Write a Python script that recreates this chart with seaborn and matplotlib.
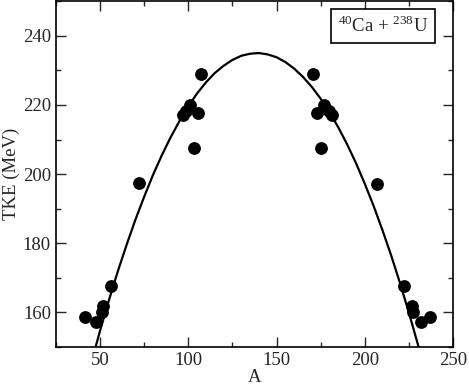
import numpy as np
import pandas as pd
import matplotlib
matplotlib.use("Agg")
import matplotlib.pyplot as plt
import seaborn as sns
from matplotlib.ticker import MultipleLocator

# measured fragment data (A, TKE)
frag_A = [41.4, 47.5, 51.2, 51.8, 56.2, 72.0, 97.2, 98.7, 101.0, 103.4, 105.7, 107.2,
          170.9, 172.8, 175.1, 177.1, 180.0, 181.3, 206.8, 222.4, 227.0, 227.2, 231.7, 237.0]
frag_TKE = [158.7, 157.1, 160.2, 161.8, 167.6, 197.3, 217.2, 218.2, 220.1, 207.4, 217.7, 229.0,
            229.0, 217.7, 207.5, 220.1, 218.2, 217.0, 197.1, 167.6, 161.8, 160.2, 157.1, 158.7]

# systematics curve
curve_A = [45, 50, 55, 60, 65, 70, 75, 80, 85, 90, 95, 100, 105, 110, 115, 120, 125, 130, 135,
           140, 145, 150, 155, 160, 165, 170, 175, 180, 185, 190, 195, 200, 205, 210, 215,
           220, 225, 230, 235]
curve_TKE = [145.3, 154.6, 163.4, 171.7, 179.4, 186.7, 193.4, 199.7, 205.4, 210.6, 215.3,
             219.6, 223.3, 226.5, 229.2, 231.3, 233.0, 234.2, 234.8, 235.0, 234.6, 233.8,
             232.4, 230.5, 228.1, 225.2, 221.8, 217.9, 213.5, 208.6, 203.2, 197.2, 190.8,
             183.8, 176.4, 168.4, 159.9, 150.9, 141.5]

pts = pd.DataFrame({"A": frag_A, "TKE": frag_TKE})
curve = pd.DataFrame({"A": curve_A, "TKE": curve_TKE})

sns.set_style("ticks")
plt.rcParams["font.family"] = ["Liberation Serif", "DejaVu Serif"]
plt.rcParams["mathtext.fontset"] = "custom"
plt.rcParams["mathtext.rm"] = "Liberation Serif"

fig = plt.figure(figsize=(4.69, 3.86), dpi=100)
ax = fig.add_axes([0.119, 0.101, 0.847, 0.896])

sns.lineplot(data=curve, x="A", y="TKE", color="black", linewidth=1.6, ax=ax, sort=False)
sns.scatterplot(data=pts, x="A", y="TKE", color="black", s=85, edgecolor="black",
                linewidth=0, ax=ax, zorder=3)

ax.set_xlim(25, 250)
ax.set_ylim(150, 250)
ax.xaxis.set_major_locator(MultipleLocator(50))
ax.xaxis.set_minor_locator(MultipleLocator(25))
ax.yaxis.set_major_locator(MultipleLocator(20))
ax.yaxis.set_minor_locator(MultipleLocator(10))
ax.set_yticks([160, 180, 200, 220, 240])
ax.tick_params(which="both", direction="in", top=True, right=True, labelsize=13.5, width=1)
ax.tick_params(which="major", length=7)
ax.tick_params(which="minor", length=3.6)
for s in ax.spines.values():
    s.set_linewidth(1.2)
    s.set_color("black")

ax.set_xlabel("A", fontsize=13.5, labelpad=0)
ax.set_ylabel("TKE (MeV)", fontsize=13.5, labelpad=2)

ax.text(0.824, 0.929, r"$^{40}$Ca + $^{238}$U", transform=ax.transAxes, ha="center",
        va="center", fontsize=13.5,
        bbox=dict(boxstyle="square,pad=0.35", facecolor="white", edgecolor="black", linewidth=1.2))

fig.savefig("out.png", dpi=100)
